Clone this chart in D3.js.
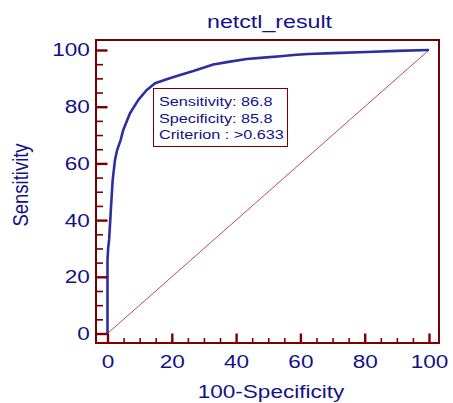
<!DOCTYPE html>
<html>
<head>
<meta charset="utf-8">
<script src="https://cdn.jsdelivr.net/npm/d3@7"></script>
<style>
  body { margin: 0; background: #fff; }
  svg text { font-family: "Liberation Sans", Arial, sans-serif; }
</style>
</head>
<body>
<svg id="chart" width="453" height="403"></svg>
<script>
// ROC curve: 100-Specificity (x) vs Sensitivity (y)
const fpr = [0, 0, 0.2, 0.5, 1.1, 1.6, 2.3, 3.0, 4.1, 4.9, 7.0, 9.6, 12.2, 14.8, 18.4, 22.6, 26.7, 32.9, 38.1, 43.3, 48.5, 53.7, 58.8, 62.5, 70.2, 80.6, 90, 100];
const tpr = [0, 26, 30, 33, 44.7, 54, 61, 64.7, 68.3, 71.8, 77.7, 82.4, 85.9, 88.3, 89.7, 91.2, 92.6, 94.9, 95.9, 96.8, 97.3, 97.8, 98.3, 98.6, 98.9, 99.3, 99.7, 100];
const majorTicks = [0, 20, 40, 60, 80, 100];
const minorTicks = [5, 10, 15, 25, 30, 35, 45, 50, 55, 65, 70, 75, 85, 90, 95];
const boxLines = ["Sensitivity: 86.8", "Specificity: 85.8", "Criterion : >0.633"];

const navy = "#121288", maroon = "#7a0000", curveCol = "#2e2e9e";
const sx = 1.22; // the picture's text is stretched sideways

const svg = d3.select("#chart");
const frame = {left: 96, right: 439, top: 40, bottom: 343};

const x = d3.scaleLinear().domain([0, 100]).range([107.5, 429]);
const y = d3.scaleLinear().domain([0, 100]).range([333.5, 50]);

// diagonal reference line
svg.append("line")
    .attr("x1", x(0)).attr("y1", y(0))
    .attr("x2", x(100)).attr("y2", y(100))
    .attr("stroke", "#b23a3a")
    .attr("stroke-width", 0.9);

// roc curve
const pts = fpr.map((d, i) => [d, tpr[i]]);
svg.append("path")
    .datum(pts)
    .attr("fill", "none")
    .attr("stroke", curveCol)
    .attr("stroke-width", 2.6)
    .attr("stroke-linejoin", "round")
    .attr("d", d3.line().x(d => x(d[0])).y(d => y(d[1])));

// frame
svg.append("rect")
    .attr("x", frame.left).attr("y", frame.top)
    .attr("width", frame.right - frame.left)
    .attr("height", frame.bottom - frame.top)
    .attr("fill", "none")
    .attr("stroke", maroon)
    .attr("stroke-width", 2);

// ticks pointing into the plot
function tickStyle(g, w) {
    g.select(".domain").remove();
    g.selectAll("line").attr("stroke", maroon).attr("stroke-width", w);
}
svg.append("g").attr("transform", `translate(${frame.left},0)`)
    .call(d3.axisRight(y).tickValues(majorTicks).tickSize(x(0) - frame.left).tickFormat(""))
    .call(g => tickStyle(g, 2.4));
svg.append("g").attr("transform", `translate(${frame.left},0)`)
    .call(d3.axisRight(y).tickValues(minorTicks).tickSize(7).tickFormat(""))
    .call(g => tickStyle(g, 1.6));
svg.append("g").attr("transform", `translate(0,${frame.bottom})`)
    .call(d3.axisTop(x).tickValues(majorTicks).tickSize(frame.bottom - y(0)).tickFormat(""))
    .call(g => tickStyle(g, 2.4));
svg.append("g").attr("transform", `translate(0,${frame.bottom})`)
    .call(d3.axisTop(x).tickValues(minorTicks).tickSize(5).tickFormat(""))
    .call(g => tickStyle(g, 1.6));

// tick labels
svg.append("g").attr("transform", `translate(${frame.left},0)`)
    .call(d3.axisLeft(y).tickValues(majorTicks).tickSize(0).tickPadding(5))
    .call(g => g.select(".domain").remove())
    .selectAll("text")
    .attr("fill", navy)
    .style("font-size", "18.5px")
    .attr("transform", `scale(${sx},1)`);

svg.append("g").attr("transform", `translate(0,${frame.bottom})`)
    .call(d3.axisBottom(x).tickValues(majorTicks).tickSize(0).tickPadding(12))
    .call(g => g.select(".domain").remove())
    .selectAll("text")
    .attr("fill", navy)
    .style("font-size", "18.5px")
    .attr("transform", `scale(${sx},1)`);

// titles
svg.append("text")
    .attr("transform", `translate(269.5,28) scale(${sx},1)`)
    .attr("text-anchor", "middle")
    .attr("fill", navy)
    .style("font-size", "19px")
    .text("netctl_result");

svg.append("text")
    .attr("transform", `translate(271,397.5) scale(${sx},1)`)
    .attr("text-anchor", "middle")
    .attr("fill", navy)
    .style("font-size", "18.5px")
    .text("100-Specificity");

svg.append("text")
    .attr("transform", `translate(28,185) scale(${sx},1) rotate(-90)`)
    .attr("text-anchor", "middle")
    .attr("fill", navy)
    .style("font-size", "18.5px")
    .text("Sensitivity");

// cut-off box
svg.append("rect")
    .attr("x", 153.5).attr("y", 88.5)
    .attr("width", 134).attr("height", 58)
    .attr("fill", "#fff")
    .attr("stroke", maroon)
    .attr("stroke-width", 1);

svg.append("g")
    .selectAll("text")
    .data(boxLines)
    .join("text")
    .attr("transform", (d, i) => `translate(159,${106 + i * 16.5}) scale(${sx},1)`)
    .attr("fill", navy)
    .style("font-size", "13.3px")
    .text(d => d);
</script>
</body>
</html>
